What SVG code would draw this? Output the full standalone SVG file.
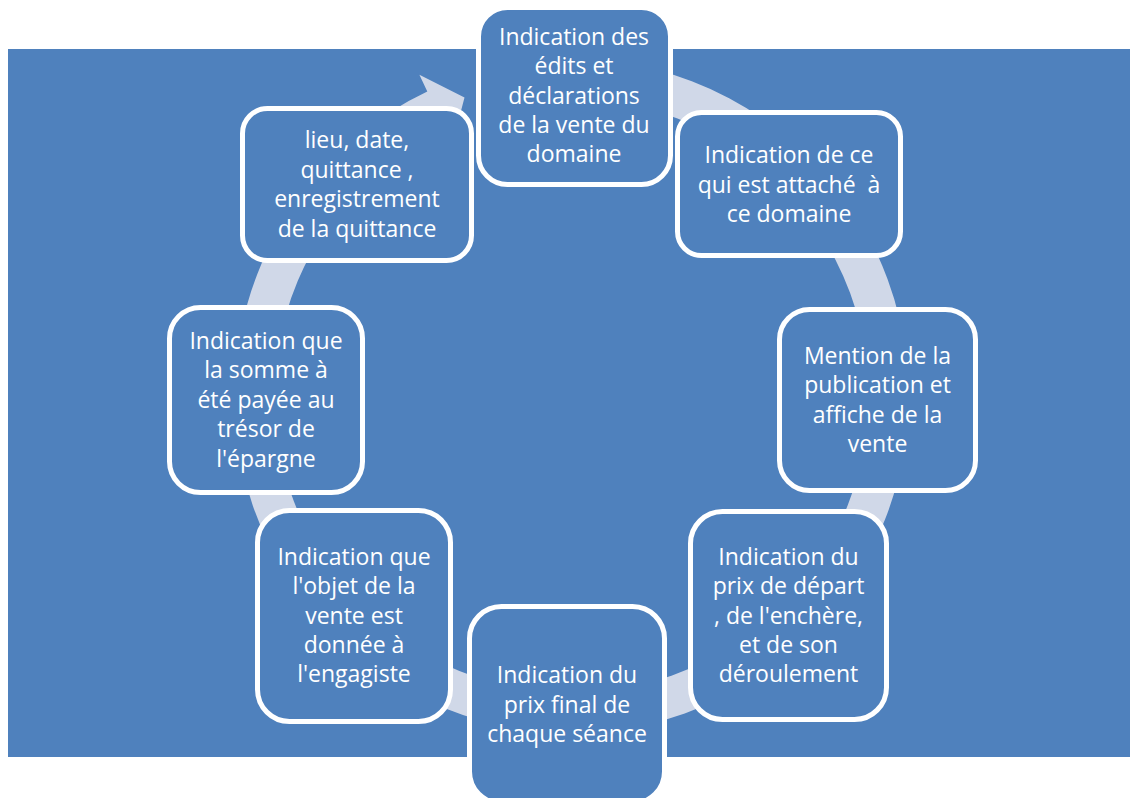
<svg xmlns="http://www.w3.org/2000/svg" width="1130" height="798" viewBox="0 0 1130 798">
<style>
.bg{fill:#4F81BD;}
.ring{fill:#D0D8E8;}
.node rect{fill:#4F81BD;stroke:#FFFFFF;stroke-width:5;}
.node text{fill:#FFFFFF;font-family:"Open Sans","Noto Sans","DejaVu Sans",sans-serif;font-size:23px;text-anchor:middle;}
</style>
<rect class="bg" x="8" y="49" width="1122" height="708"/>
<g id="connectors">
<path class="ring" d="M571.5,59 A337,337 0 1 1 427.3,91.4 L419.4,74.7 L464.5,97.6 L452.3,144.3 L444.4,127.6 A297,297 0 1 0 571.5,99 Z"/>
</g>
<g id="node1" class="node">
<rect x="478.5" y="7.5" width="192" height="177" rx="29" ry="29"/>
<text x="574" y="45">Indication des</text>
<text x="574" y="74.3">édits et</text>
<text x="574" y="103.5">déclarations</text>
<text x="574" y="132.8">de la vente du</text>
<text x="574" y="162">domaine</text>
</g>
<g id="node2" class="node">
<rect x="677.5" y="112.5" width="223" height="143" rx="24" ry="24"/>
<text x="789" y="163">Indication de ce</text>
<text x="789" y="192.5" xml:space="preserve">qui est attaché  à</text>
<text x="789" y="222">ce domaine</text>
</g>
<g id="node3" class="node">
<rect x="779.5" y="309.5" width="196" height="181" rx="30" ry="30"/>
<text x="877.5" y="364">Mention de la</text>
<text x="877.5" y="393.3">publication et</text>
<text x="877.5" y="422.7">affiche de la</text>
<text x="877.5" y="452">vente</text>
</g>
<g id="node4" class="node">
<rect x="690.5" y="511.5" width="196" height="208" rx="32" ry="32"/>
<text x="788.5" y="565">Indication du</text>
<text x="788.5" y="594.3">prix de départ</text>
<text x="788.5" y="623.5">, de l'enchère,</text>
<text x="788.5" y="652.8">et de son</text>
<text x="788.5" y="682">déroulement</text>
</g>
<g id="node5" class="node">
<rect x="469.5" y="606.5" width="195" height="197" rx="32" ry="32"/>
<text x="567" y="683">Indication du</text>
<text x="567" y="712.5">prix final de</text>
<text x="567" y="742">chaque séance</text>
</g>
<g id="node6" class="node">
<rect x="257.5" y="510.5" width="193" height="211" rx="32" ry="32"/>
<text x="354" y="565">Indication que</text>
<text x="354" y="594.3">l'objet de la</text>
<text x="354" y="623.5">vente est</text>
<text x="354" y="652.8">donnée à</text>
<text x="354" y="682">l'engagiste</text>
</g>
<g id="node7" class="node">
<rect x="169.5" y="307.5" width="193" height="185" rx="31" ry="31"/>
<text x="266" y="349">Indication que</text>
<text x="266" y="378.4">la somme à</text>
<text x="266" y="407.8">été payée au</text>
<text x="266" y="437.2">trésor de</text>
<text x="266" y="466.6">l'épargne</text>
</g>
<g id="node8" class="node">
<rect x="242.5" y="108.5" width="229" height="152" rx="25" ry="25"/>
<text x="357" y="148.3">lieu, date,</text>
<text x="357" y="177.8">quittance ,</text>
<text x="357" y="207.3">enregistrement</text>
<text x="357" y="236.7">de la quittance</text>
</g>
</svg>
